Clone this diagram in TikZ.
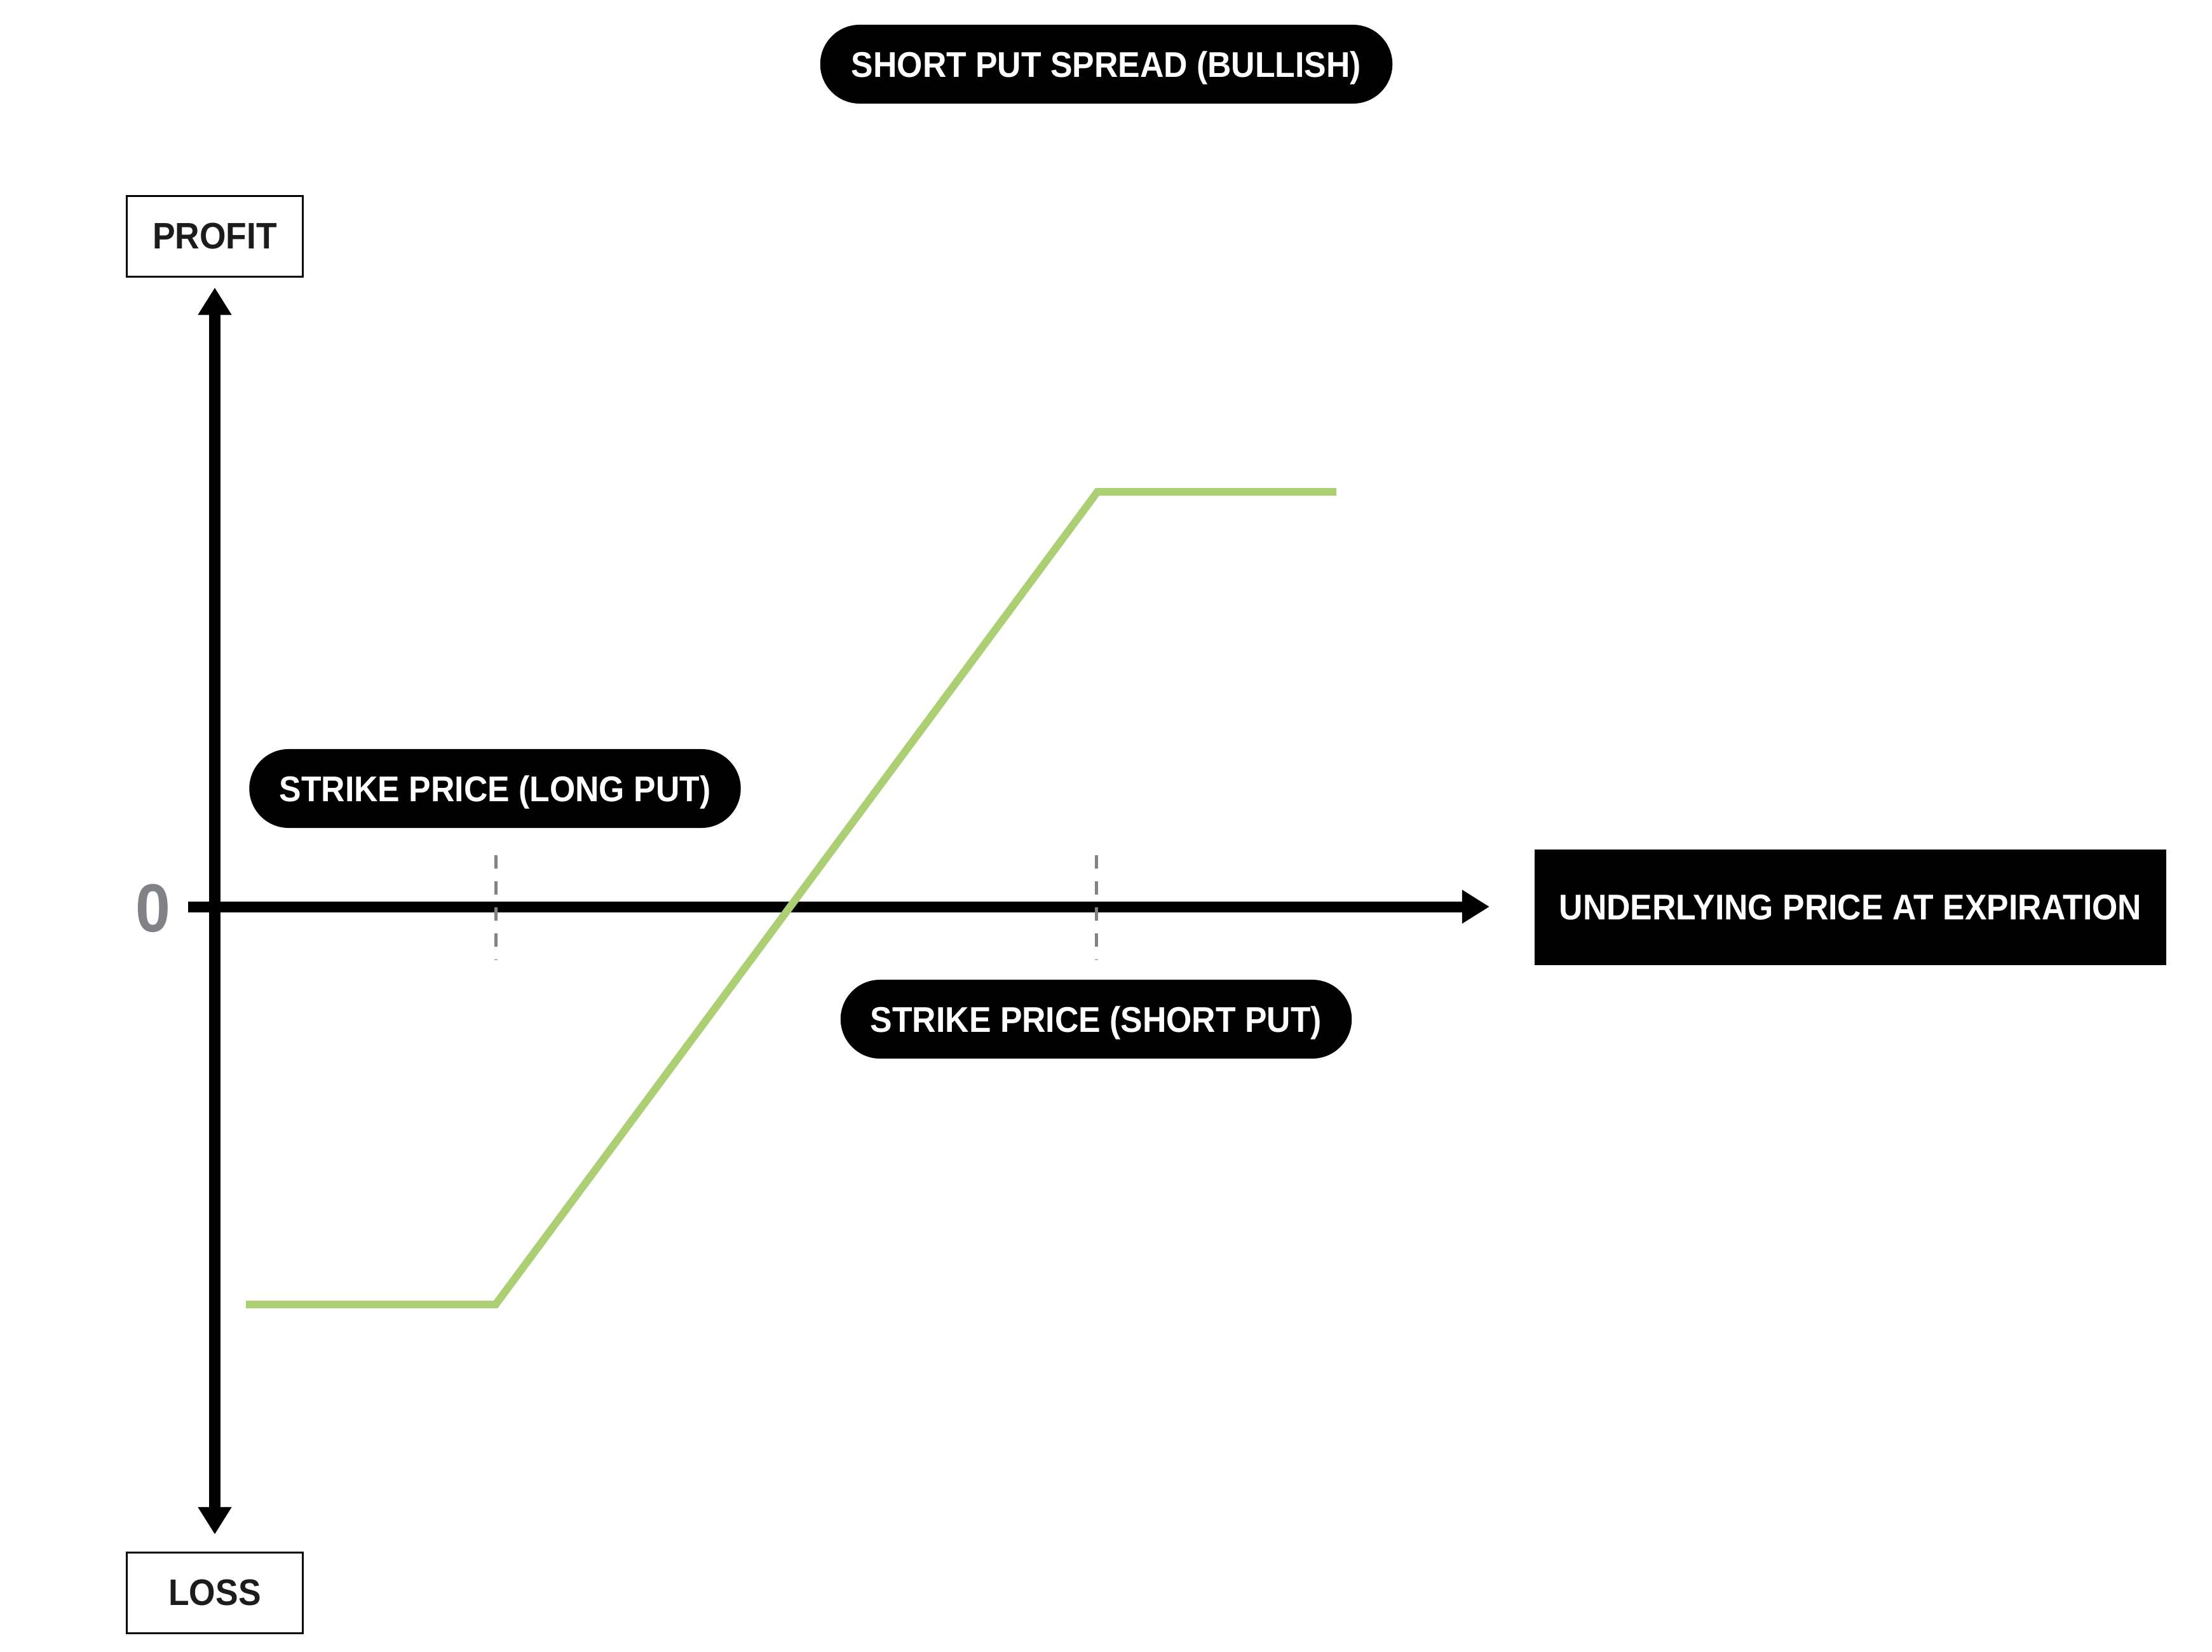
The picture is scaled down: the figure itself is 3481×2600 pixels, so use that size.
\documentclass[tikz,border=0pt]{standalone}
\usepackage{fontspec}
\setmainfont{Liberation Sans}[FakeStretch=0.92]
\usetikzlibrary{arrows.meta}
\definecolor{payoff}{HTML}{ABCF72}
\definecolor{tickgray}{HTML}{808285}
\definecolor{labelink}{HTML}{1C1C1C}

\begin{document}
\begin{tikzpicture}[
        x=0.01cm, y=-0.01cm,
        pill/.style={fill=black, text=white, rounded corners=0.62cm, minimum height=1.24cm, inner sep=0pt, text height=0.4cm, text depth=0cm, font=\fontsize{16}{19}\selectfont\bfseries},
        axisbox/.style={draw, line width=0.03cm, minimum width=2.77cm, minimum height=1.26cm, text=labelink, font=\fontsize{16.5}{20}\selectfont\bfseries},
        axis/.style={line width=0.17cm, >={Triangle[length=0.43cm, width=0.5cm]}},
        strike/.style={tickgray, line width=0.05cm, dash pattern=on 0.21cm off 0.2cm},
        payoffline/.style={payoff, line width=0.12cm, line join=miter}
    ]
        \useasboundingbox (0,0) rectangle (3481,2600);
        \node[pill, minimum width=9cm] (title) at (1741,101) {SHORT PUT SPREAD (BULLISH)};
        \node[axisbox] (profit) at (338,372) {PROFIT};
        \node[axisbox] (loss) at (338,2507) {LOSS};
        \node[fill=black, text=white, minimum width=9.94cm, minimum height=1.82cm, inner sep=0pt, font=\fontsize{16}{19}\selectfont\bfseries] (underlying) at (2912,1428) {UNDERLYING PRICE AT EXPIRATION};
        \node[text=tickgray, inner sep=0pt, font=\fontsize{30.5}{36}\selectfont\bfseries] (zero) at (241,1430) {0};
        \node[pill, minimum width=7.73cm] (longput) at (779,1241) {STRIKE PRICE (LONG PUT)};
        \node[pill, minimum width=8.04cm] (shortput) at (1725,1604) {STRIKE PRICE (SHORT PUT)};
        \coordinate (xstart) at (296,1427);
        \draw[axis, <->, shorten <=0.16cm, shorten >=0.275cm] (profit) -- (loss);
        \draw[axis, ->, shorten >=0.7cm] (xstart) -- (underlying.west |- xstart);
        \draw[strike] (780,1346) -- (780,1511);
        \draw[strike] (1725,1346) -- (1725,1511);
        \coordinate (p1) at (387,2053);
        \coordinate (p2) at (780,2053);
        \coordinate (p3) at (1727,774);
        \coordinate (p4) at (2103,774);
        \draw[payoffline] (p1) -- (p2) -- (p3) -- (p4);
\end{tikzpicture}
\end{document}
